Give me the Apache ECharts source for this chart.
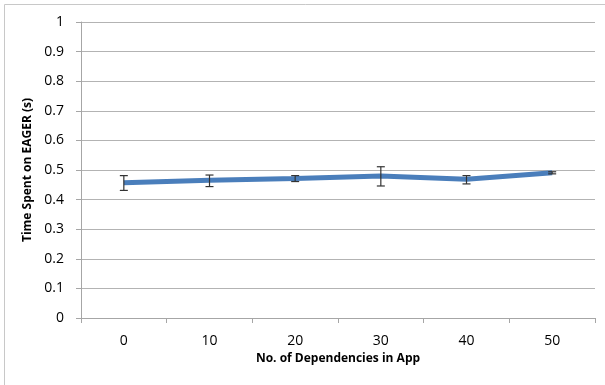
<!DOCTYPE html>
<html><head><meta charset="utf-8">
<script src="https://cdn.jsdelivr.net/npm/echarts@6/dist/echarts.min.js"></script>
<style>html,body{margin:0;padding:0;background:#fff}#c{width:605px;height:385px}</style>
</head><body><div id="c"></div>
<script>
var categories = ['0','10','20','30','40','50'];
var meanTime = [0.457, 0.465, 0.471, 0.480, 0.469, 0.491];
var errLow = [0.431, 0.444, 0.461, 0.446, 0.453, 0.487];
var errHigh = [0.481, 0.483, 0.481, 0.511, 0.481, 0.494];
var yTicks = [0,0.1,0.2,0.3,0.4,0.5,0.6,0.7,0.8,0.9,1];

var font = '"Open Sans", "Liberation Sans", sans-serif';
var errData = categories.map(function(c,i){return [i, errLow[i], errHigh[i]];});
var chart = echarts.init(document.getElementById('c'));
chart.setOption({
  animation:false,
  graphic:[{type:'rect',shape:{x:4.5,y:4.5,width:700,height:500},style:{fill:'none',stroke:'#c8c8c8',lineWidth:1},z:-1}],
  grid:{left:81,top:22,right:10,bottom:67},
  xAxis:{type:'category',data:categories,boundaryGap:true,
    name:'No. of Dependencies in App',nameLocation:'middle',nameGap:35,
    nameTextStyle:{fontFamily:font,fontSize:12,fontWeight:'bold',color:'#000'},
    axisLine:{lineStyle:{color:'#a6a6a6',width:1}},
    axisTick:{show:true,length:5,lineStyle:{color:'#a6a6a6'}},
    axisLabel:{fontFamily:font,fontSize:14,color:'#000',margin:16}},
  yAxis:{type:'value',min:0,max:1,interval:0.1,
    name:'Time Spent on EAGER (s)',nameLocation:'middle',nameGap:42,
    nameTextStyle:{fontFamily:font,fontSize:12,fontWeight:'bold',color:'#000'},
    axisLine:{show:true,lineStyle:{color:'#a6a6a6',width:1}},
    axisTick:{show:true,length:5,lineStyle:{color:'#a6a6a6'}},
    splitLine:{lineStyle:{color:'#b3b3b3',width:1}},
    axisLabel:{fontFamily:font,fontSize:14,color:'#000',margin:17,
      formatter:function(v){var r=Math.round(v*10)/10; return yTicks.indexOf(r)>=0?String(r):'';}}},
  series:[
    {type:'line',data:meanTime,symbol:'none',lineStyle:{color:'#4a7ebb',width:5},z:2},
    {type:'custom',data:errData,z:3,
      renderItem:function(params,api){
        var x=api.value(0);
        var lo=api.coord([x,api.value(1)]);
        var hi=api.coord([x,api.value(2)]);
        var w=4;
        var st={stroke:'#333',lineWidth:1.2};
        return {type:'group',children:[
          {type:'line',shape:{x1:lo[0],y1:lo[1],x2:hi[0],y2:hi[1]},style:st},
          {type:'line',shape:{x1:lo[0]-w,y1:lo[1],x2:lo[0]+w,y2:lo[1]},style:st},
          {type:'line',shape:{x1:hi[0]-w,y1:hi[1],x2:hi[0]+w,y2:hi[1]},style:st}
        ]};
      }}
  ]
});
</script></body></html>
